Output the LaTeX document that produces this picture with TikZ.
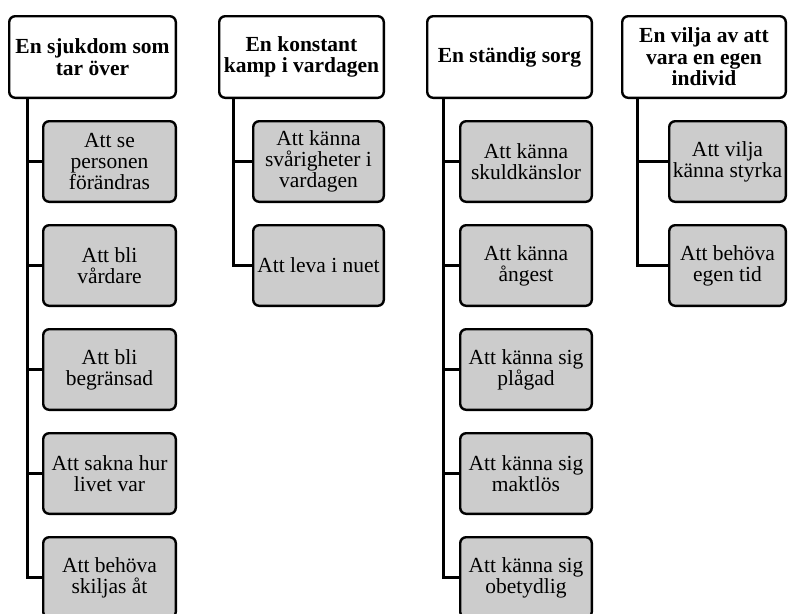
\documentclass[tikz,border=0pt]{standalone}
\usepackage{fontspec}
\setmainfont{Liberation Serif}
\definecolor{subgray}{RGB}{204,204,204}
\begin{document}
\begin{tikzpicture}[x=1pt,y=1pt,
  box/.style={draw=black, line width=2.4pt, rounded corners=6pt, align=center, inner sep=0pt},
  head/.style={box, fill=white, font=\fontsize{21.5}{21.5}\selectfont\bfseries, minimum height=81.6pt},
  sub/.style={box, fill=subgray, font=\fontsize{21.5}{21}\selectfont, minimum height=80.6pt},
  link/.style={draw=black, line width=3pt}]
\useasboundingbox (0,0) rectangle (795,-613);
\clip (0,0) rectangle (795,-613);
% column 1
\node[head, minimum width=166.6pt] (h1) at (92.5,-57) {En sjukdom som\\tar över};
\node[sub, minimum width=132.6pt] (c11) at (109.5,-161.5) {Att se\\personen\\förändras};
\node[sub, minimum width=132.6pt] (c12) at (109.5,-265.5) {Att bli\\vårdare};
\node[sub, minimum width=132.6pt] (c13) at (109.5,-369.5) {Att bli\\begränsad};
\node[sub, minimum width=132.6pt] (c14) at (109.5,-473.5) {Att sakna hur\\livet var};
\node[sub, minimum width=132.6pt] (c15) at (109.5,-577.5) {Att behöva\\skiljas åt};
% column 2
\node[head, minimum width=164.6pt] (h2) at (301.5,-57) {En konstant\\kamp i vardagen};
\node[sub, minimum width=130.6pt] (c21) at (318.5,-161.5) {Att känna\\svårigheter i\\vardagen};
\node[sub, minimum width=130.6pt] (c22) at (318.5,-265.5) {Att leva i nuet};
% column 3
\node[head, minimum width=164.6pt] (h3) at (509.5,-57) {En ständig sorg};
\node[sub, minimum width=131.6pt] (c31) at (526,-161.5) {Att känna\\skuldkänslor};
\node[sub, minimum width=131.6pt] (c32) at (526,-265.5) {Att känna\\ångest};
\node[sub, minimum width=131.6pt] (c33) at (526,-369.5) {Att känna sig\\plågad};
\node[sub, minimum width=131.6pt] (c34) at (526,-473.5) {Att känna sig\\maktlös};
\node[sub, minimum width=131.6pt] (c35) at (526,-577.5) {Att känna sig\\obetydlig};
% column 4
\node[head, minimum width=163.6pt] (h4) at (704,-57) {En vilja av att\\vara en egen\\individ};
\node[sub, minimum width=116.6pt] (c41) at (727.5,-161.5) {Att vilja\\känna styrka};
\node[sub, minimum width=116.6pt] (c42) at (727.5,-265.5) {Att behöva\\egen tid};
% trunk coordinates
\coordinate (v1) at (27,0);
\coordinate (v2) at (233,0);
\coordinate (v3) at (443,0);
\coordinate (v4) at (637,0);
% connectors
\draw[link] (v1 |- h1.south) |- (c15.west);
\foreach \c in {c11,c12,c13,c14} \draw[link] (v1 |- \c.west) -- (\c.west);
\draw[link] (v2 |- h2.south) |- (c22.west);
\draw[link] (v2 |- c21.west) -- (c21.west);
\draw[link] (v3 |- h3.south) |- (c35.west);
\foreach \c in {c31,c32,c33,c34} \draw[link] (v3 |- \c.west) -- (\c.west);
\draw[link] (v4 |- h4.south) |- (c42.west);
\draw[link] (v4 |- c41.west) -- (c41.west);
\end{tikzpicture}
\end{document}
